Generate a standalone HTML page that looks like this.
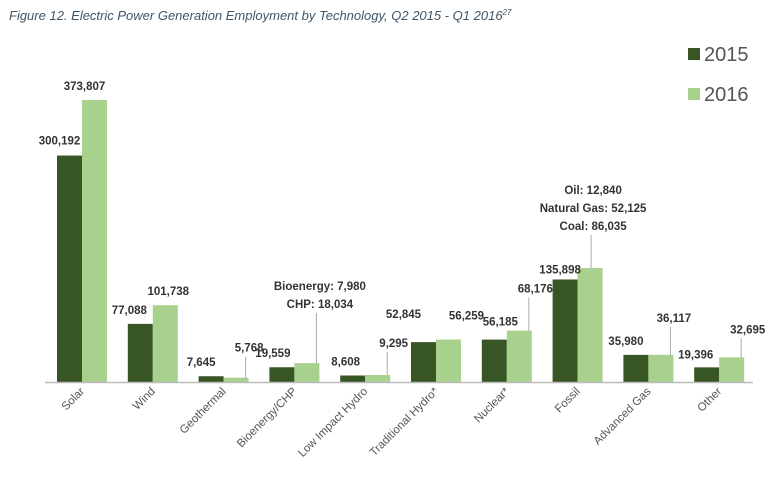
<!DOCTYPE html>
<html><head><meta charset="utf-8"><style>
body{margin:0;background:#fff;width:780px;height:490px;overflow:hidden}
svg{font-family:"Liberation Sans",sans-serif}
.v{font-size:11.5px;font-weight:bold;fill:#333;text-anchor:middle}
.c{font-size:11.5px;fill:#555;text-anchor:end}
</style></head><body>
<svg width="780" height="490">
<text x="9" y="20" font-size="13" font-style="italic" fill="#3f5668">Figure 12. Electric Power Generation Employment by Technology, Q2 2015 - Q1 2016<tspan font-size="8" dy="-5">27</tspan></text>
<g id="plot"></g>
<line x1="45" y1="382.5" x2="753" y2="382.5" stroke="#bbb" stroke-width="1.5"/>
<rect x="688" y="48" width="12" height="12" fill="#375623"/>
<text x="704" y="61" font-size="20" fill="#555">2015</text>
<rect x="688" y="88" width="12" height="12" fill="#a9d18e"/>
<text x="704" y="101" font-size="20" fill="#555">2016</text>
</svg>
<script>
const categories=["Solar","Wind","Geothermal","Bioenergy/CHP","Low Impact Hydro","Traditional Hydro*","Nuclear*","Fossil","Advanced Gas","Other"];
const values2015=[300192,77088,7645,19559,8608,52845,56185,135898,35980,19396];
const values2016=[373807,101738,5768,25014,9295,56259,68176,151000,36117,32695];
const labels2015=["300,192","77,088","7,645","19,559","8,608","52,845","56,185","135,898","35,980","19,396"];
const labels2016=[["373,807"],["101,738"],["5,768"],["Bioenergy: 7,980","CHP: 18,034"],["9,295"],["56,259"],["68,176"],["Oil: 12,840","Natural Gas: 52,125","Coal: 86,035"],["36,117"],["32,695"]];
// layout: label offsets (dx, top-of-label above bar) for each category
const off15=[[-10,11],[-11,10],[-10,10],[-9,10],[-7,10],[-20,24],[6,14],[-5,6],[-10,10],[-11,9]];
const off16=[[-10,10],[3,10],[13,26],[13,55],[16,28],[18,20],[16,38],[3,38],[13,33],[16,24]];
const base=382, k=(382-100)/373807, x0=57, step=70.8, bw=25;
const y=v=>base-v*k;
const xc=i=>x0+i*step+bw;
const g=document.getElementById('plot');
const NS='http://www.w3.org/2000/svg';
function mk(t,a){const e=document.createElementNS(NS,t);for(const n in a)e.setAttribute(n,a[n]);g.appendChild(e);return e;}
categories.forEach((c,i)=>{
  const cx=xc(i);
  const b1=mk('rect',{x:cx-bw,y:y(values2015[i]),width:bw,height:base-y(values2015[i]),fill:'#375623'});
  
  
  const b2=mk('rect',{x:cx,y:y(values2016[i]),width:bw,height:base-y(values2016[i]),fill:'#a9d18e'});
  
  
  const t1=mk('text',{class:'v',x:cx-bw/2+off15[i][0],y:y(values2015[i])-off15[i][1]});
  t1.textContent=labels2015[i];
  
  
  const lines=labels2016[i], n=lines.length;
  const lx=cx+bw/2+off16[i][0], ly=y(values2016[i])-off16[i][1];
  lines.forEach((s,j)=>{
    const t=mk('text',{class:'v',x:lx,y:ly-(n-1-j)*18});
    t.textContent=s;
    
    
  });
  if(off16[i][1]>20){
    const lxx=Math.min(Math.max(lx-2,cx+3),cx+bw-3);
    const ln=mk('line',{x1:lxx,y1:ly+5,x2:lxx,y2:y(values2016[i]),stroke:'#aaa','stroke-width':1});
    
    
  }
  const tl=mk('text',{class:'c',transform:`translate(${cx+3},392) rotate(-45)`});
  tl.textContent=c;
  
  
});
</script>
</body></html>
